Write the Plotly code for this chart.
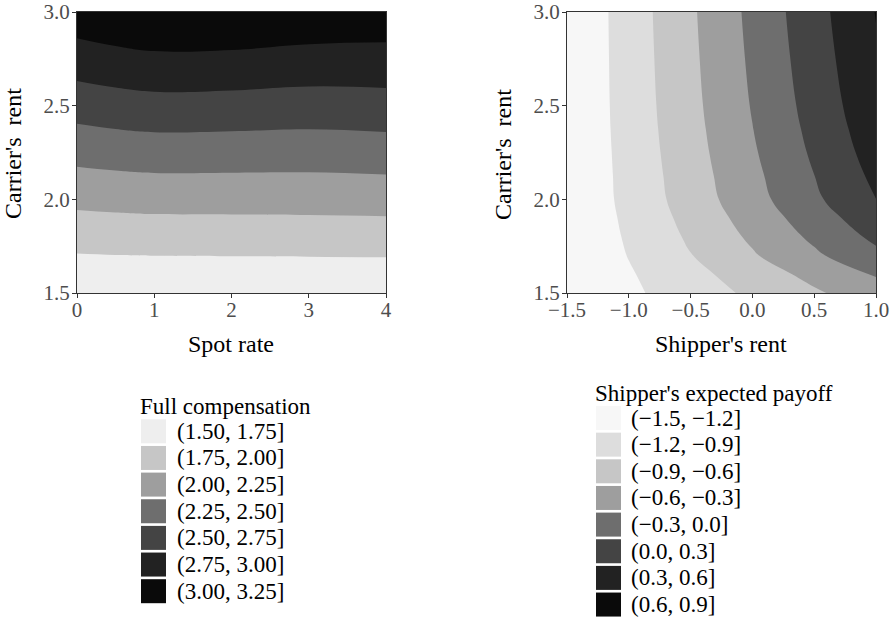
import plotly.graph_objects as go

W, H = 890, 618

# ---------------- data ----------------
# Left panel: Full compensation over (Spot rate, Carrier's rent)
spot_rate = [0, 0.5, 1, 2, 3, 4]
carrier_rent_left = [1.5, 1.75, 2.0, 2.25, 2.5, 2.75, 3.0]
full_comp = [
    [1.522, 1.526, 1.526, 1.528, 1.530, 1.533],
    [1.793, 1.802, 1.807, 1.810, 1.814, 1.818],
    [2.061, 2.077, 2.089, 2.090, 2.094, 2.102],
    [2.332, 2.358, 2.375, 2.371, 2.365, 2.382],
    [2.606, 2.641, 2.664, 2.656, 2.636, 2.652],
    [2.879, 2.922, 2.952, 2.945, 2.913, 2.910],
    [3.153, 3.205, 3.240, 3.236, 3.192, 3.165],
]
left_breaks = [1.50, 1.75, 2.00, 2.25, 2.50, 2.75, 3.00, 3.25]
left_labels = ["(1.50, 1.75]", "(1.75, 2.00]", "(2.00, 2.25]", "(2.25, 2.50]",
               "(2.50, 2.75]", "(2.75, 3.00]", "(3.00, 3.25]"]
left_colors = ["#eeeeee", "#c6c6c6", "#9e9e9e", "#6e6e6e", "#444444", "#222222", "#0a0a0a"]

# Right panel: Shipper's expected payoff over (Shipper's rent, Carrier's rent)
shipper_rent = [-1.5, -1.0, -0.5, 0.0, 0.5, 1.0]
carrier_rent_right = [1.5, 1.6, 1.7, 1.8, 1.9, 2.0, 2.125, 2.25, 2.375, 2.5, 2.75, 3.0]
ship_payoff = [
    [-1.460, -1.255, -1.050, -0.845, -0.640, -0.435],
    [-1.465, -1.228, -0.990, -0.753, -0.515, -0.278],
    [-1.470, -1.190, -0.910, -0.630, -0.350, -0.070],
    [-1.470, -1.163, -0.856, -0.549, -0.242, 0.065],
    [-1.470, -1.139, -0.807, -0.477, -0.146, 0.185],
    [-1.470, -1.116, -0.762, -0.408, -0.054, 0.298],
    [-1.473, -1.106, -0.738, -0.371, -0.003, 0.365],
    [-1.475, -1.095, -0.715, -0.335, 0.045, 0.425],
    [-1.475, -1.085, -0.696, -0.306, 0.083, 0.473],
    [-1.475, -1.078, -0.680, -0.283, 0.115, 0.513],
    [-1.478, -1.069, -0.660, -0.251, 0.158, 0.567],
    [-1.480, -1.062, -0.644, -0.226, 0.192, 0.610],
]
right_breaks = [-1.5, -1.2, -0.9, -0.6, -0.3, 0.0, 0.3, 0.6, 0.9]
right_labels = ["(\u22121.5, \u22121.2]", "(\u22121.2, \u22120.9]", "(\u22120.9, \u22120.6]",
                "(\u22120.6, \u22120.3]", "(\u22120.3, 0.0]", "(0.0, 0.3]", "(0.3, 0.6]", "(0.6, 0.9]"]
right_colors = ["#f7f7f7", "#dddddd", "#c6c6c6", "#9e9e9e", "#6e6e6e", "#444444", "#222222", "#0a0a0a"]

# tick labels
x1_ticks = [0, 1, 2, 3, 4]
x1_ticktext = ["0", "1", "2", "3", "4"]
y_ticks = [1.5, 2.0, 2.5, 3.0]
y_ticktext = ["1.5", "2.0", "2.5", "3.0"]
x2_ticks = [-1.5, -1.0, -0.5, 0.0, 0.5, 1.0]
x2_ticktext = ["\u22121.5", "\u22121.0", "\u22120.5", "0.0", "0.5", "1.0"]

FONT = "Liberation Serif, Times New Roman, serif"


def step_scale(colors):
    n = len(colors)
    scale = []
    for j, c in enumerate(colors):
        lo = max(0.0, (j - 0.5) / (n - 1))
        hi = min(1.0, (j + 0.5) / (n - 1))
        scale.append([lo, c])
        scale.append([hi, c])
    return scale


def px(x):
    return x / W


def py(y):
    return 1 - y / H


fig = go.Figure()

fig.add_trace(go.Contour(
    x=spot_rate, y=carrier_rent_left, z=full_comp,
    contours=dict(coloring="fill", start=left_breaks[1], end=left_breaks[-2],
                  size=left_breaks[1] - left_breaks[0], showlines=False),
    colorscale=step_scale(left_colors), showscale=False,
    line=dict(width=0, smoothing=1.3),
    xaxis="x", yaxis="y", hoverinfo="skip",
))

fig.add_trace(go.Contour(
    x=shipper_rent, y=carrier_rent_right, z=ship_payoff,
    contours=dict(coloring="fill", start=right_breaks[1], end=right_breaks[-2],
                  size=round(right_breaks[1] - right_breaks[0], 6), showlines=False),
    colorscale=step_scale(right_colors), showscale=False,
    line=dict(width=0, smoothing=1.3),
    xaxis="x2", yaxis="y2", hoverinfo="skip",
))

axis_common = dict(
    showgrid=False, zeroline=False, showline=True, mirror=True,
    linecolor="#333333", linewidth=1, automargin=False,
    ticks="outside", ticklen=4, tickwidth=1, tickcolor="#333333",
    tickfont=dict(family=FONT, size=21, color="#4d4d4d"),
)
xaxis_extra = dict(ticklabelstandoff=-6)
yaxis_extra = dict(ticklabelstandoff=-2)

ydom = [py(293), py(12)]
fig.update_layout(
    width=W, height=H,
    margin=dict(l=0, r=0, t=0, b=0, autoexpand=False),
    paper_bgcolor="white", plot_bgcolor="white",
    showlegend=False,
    xaxis=dict(domain=[px(77), px(386)], range=[0, 4], tickvals=x1_ticks,
               ticktext=x1_ticktext, anchor="y", **axis_common, **xaxis_extra),
    yaxis=dict(domain=ydom, range=[1.5, 3.0], tickvals=y_ticks,
               ticktext=y_ticktext, anchor="x", **axis_common, **yaxis_extra),
    xaxis2=dict(domain=[px(567), px(876)], range=[-1.5, 1.0], tickvals=x2_ticks,
                ticktext=x2_ticktext, anchor="y2", **axis_common, **xaxis_extra),
    yaxis2=dict(domain=ydom, range=[1.5, 3.0], tickvals=y_ticks,
                ticktext=y_ticktext, anchor="x2", **axis_common, **yaxis_extra),
)

annotations = []
shapes = []

title_font = dict(family=FONT, size=24, color="black")
# axis titles
annotations.append(dict(text="Spot rate", x=px(231), y=py(344), xref="paper", yref="paper",
                        showarrow=False, font=title_font, xanchor="center", yanchor="middle"))
annotations.append(dict(text="Shipper's rent", x=px(721), y=py(344), xref="paper", yref="paper",
                        showarrow=False, font=title_font, xanchor="center", yanchor="middle"))
for cx in (13, 503):
    annotations.append(dict(text="Carrier's\u00a0 rent", x=px(cx), y=py(154), xref="paper",
                            yref="paper", showarrow=False, font=title_font, textangle=-90,
                            xanchor="center", yanchor="middle"))


def add_legend(title, labels, colors, sw_x, label_x, title_y, first_top, pitch=26.65,
               sw_w=25, sw_h=24):
    annotations.append(dict(text=title, x=px(sw_x - 3), y=py(title_y), xref="paper",
                            yref="paper", showarrow=False, xanchor="left", yanchor="middle",
                            font=dict(family=FONT, size=23, color="black")))
    for i, (lab, col) in enumerate(zip(labels, colors)):
        top = first_top + i * pitch
        shapes.append(dict(type="rect", xref="paper", yref="paper",
                           x0=px(sw_x), x1=px(sw_x + sw_w), y0=py(top + sw_h), y1=py(top),
                           fillcolor=col, line=dict(width=0)))
        annotations.append(dict(text=lab, x=px(label_x), y=py(top + sw_h / 2), xref="paper",
                                yref="paper", showarrow=False, xanchor="left",
                                yanchor="middle",
                                font=dict(family=FONT, size=23, color="black")))


add_legend("Full compensation", left_labels, left_colors, 141, 175, 406, 419.3)
add_legend("Shipper's expected payoff", right_labels, right_colors, 596, 629, 393, 406)

fig.update_layout(annotations=annotations, shapes=shapes)

fig.write_html(
    "out.html",
    config={"displayModeBar": False},
    post_script="document.body.style.margin='0';document.body.style.overflow='hidden';",
)
